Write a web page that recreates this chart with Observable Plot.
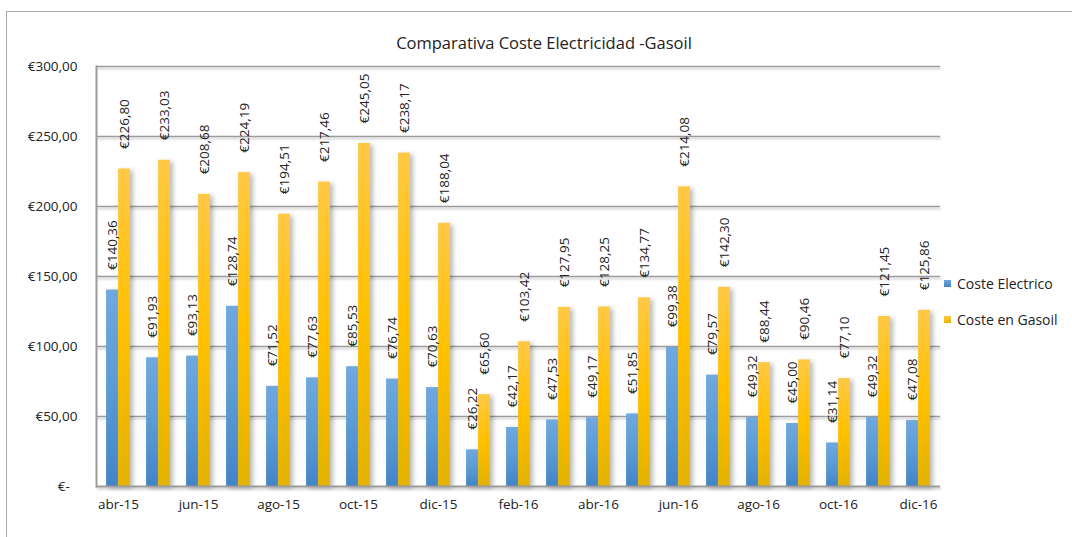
<!DOCTYPE html>
<html><head><meta charset="utf-8">
<script src="https://cdn.jsdelivr.net/npm/d3@7"></script>
<script src="https://cdn.jsdelivr.net/npm/@observablehq/plot@0.6"></script>
<style>
body{margin:0;background:#fff;overflow:hidden}
#wrap{position:relative;width:1072px;height:537px;overflow:hidden;font-family:"Open Sans",sans-serif;color:#222}
#frame{position:absolute;left:6px;top:11px;width:1100px;height:600px;border:1.5px solid #aaaaaa;box-sizing:border-box}
#title{position:absolute;left:0;width:1088px;top:31px;line-height:24px;text-align:center;font-size:16.5px}
#chart{position:absolute;left:0;top:0}
#legend{position:absolute;left:944px;top:273px;font-size:14px}
.item{display:flex;align-items:center;height:20px;margin-bottom:16px;white-space:nowrap}
.sw{width:7px;height:7px;margin-right:6px}
</style></head>
<body>
<div id="wrap">
  <div id="frame"></div>
  <div id="title">Comparativa Coste Electricidad -Gasoil</div>
  <div id="chart"></div>
  <div id="legend"></div>
</div>
<script>
const months = ["abr-15","may-15","jun-15","jul-15","ago-15","sep-15","oct-15","nov-15","dic-15","ene-16","feb-16","mar-16","abr-16","may-16","jun-16","jul-16","ago-16","sep-16","oct-16","nov-16","dic-16"];
const costeElectrico = [140.36,91.93,93.13,128.74,71.52,77.63,85.53,76.74,70.63,26.22,42.17,47.53,49.17,51.85,99.38,79.57,49.32,45.00,31.14,49.32,47.08];
const costeGasoil = [226.80,233.03,208.68,224.19,194.51,217.46,245.05,238.17,188.04,65.60,103.42,127.95,128.25,134.77,214.08,142.30,88.44,90.46,77.10,121.45,125.86];
const seriesNames = ["Coste Electrico","Coste en Gasoil"];
const yTicks = [0,50,100,150,200,250,300];
const xTickLabels = ["abr-15","jun-15","ago-15","oct-15","dic-15","feb-16","abr-16","jun-16","ago-16","oct-16","dic-16"];

const elec = months.map((m,i)=>({month:m, serie:seriesNames[0], value:costeElectrico[i]}));
const gas = months.map((m,i)=>({month:m, serie:seriesNames[1], value:costeGasoil[i]}));

const loc = d3.formatLocale({decimal:",", thousands:".", grouping:[3], currency:["€",""]});
const f2 = loc.format("$,.2f");
const fmtY = v => v === 0 ? "€-\u2007" : f2(v);

const W = 1072, H = 537;
const lab = {fontFamily:"Open Sans", fontSize:13.5, fill:"#222", rotate:-90, textAnchor:"start", dy:-20};

const chart = Plot.plot({
  width: W, height: H,
  marginLeft: 96, marginRight: 132, marginTop: 66, marginBottom: 51,
  style: {fontFamily:"Open Sans", fontSize:"13.5px", color:"#222", background:"transparent", overflow:"visible"},
  x: {domain: months, padding: 0, axis: null},
  y: {domain: [0,300], axis: null},
  marks: [
    Plot.gridY(yTicks.slice(1), {stroke:"#9c9c9c", strokeOpacity:1, strokeWidth:1.5}),
    Plot.barY(elec, {x:"month", y:"value", fill:"url(#gBlue)", insetLeft:8.1, insetRight:20.1}),
    Plot.barY(gas, {x:"month", y:"value", fill:"url(#gYellow)", insetLeft:20.1, insetRight:8.1}),
    Plot.ruleY([0], {stroke:"#9c9c9c", strokeWidth:2}),
    Plot.frame({anchor:"left", stroke:"#9c9c9c", strokeWidth:2}),
    Plot.axisY({ticks: yTicks, tickFormat: fmtY, tickSize: 0, tickPadding: 19, label: null, fontSize: 13.5}),
    Plot.axisX({ticks: xTickLabels, tickSize: 0, tickPadding: 13, label: null, fontSize: 13.5}),
    Plot.text(elec, {x:"month", y:"value", text: d => f2(d.value), dx:-6, ...lab}),
    Plot.text(gas, {x:"month", y:"value", text: d => f2(d.value), dx:6, ...lab})
  ]
});

const svg = d3.select(chart);
svg.insert("defs", ":first-child").html(`
  <linearGradient id="gBlue" x1="0" y1="0" x2="0" y2="1">
    <stop offset="0" stop-color="#70a8df"/>
    <stop offset="0.5" stop-color="#5b9bd5"/>
    <stop offset="1" stop-color="#4384c7"/>
  </linearGradient>
  <linearGradient id="gYellow" x1="0" y1="0" x2="0" y2="1">
    <stop offset="0" stop-color="#ffc844"/>
    <stop offset="0.5" stop-color="#ffc000"/>
    <stop offset="1" stop-color="#e2b200"/>
  </linearGradient>
  <filter id="shadow" filterUnits="userSpaceOnUse" x="0" y="0" width="${W}" height="${H}">
    <feDropShadow dx="3" dy="2" stdDeviation="2.5" flood-color="#000" flood-opacity="0.28"/>
  </filter>
  <filter id="shadowLine" filterUnits="userSpaceOnUse" x="0" y="0" width="${W}" height="${H}">
    <feDropShadow dx="1" dy="2" stdDeviation="1.2" flood-color="#000" flood-opacity="0.22"/>
  </filter>
`);
svg.selectAll("g[aria-label='bar']").attr("filter","url(#shadow)");
svg.selectAll("g[aria-label='y-grid'], g[aria-label='rule'], g[aria-label='frame']").attr("filter","url(#shadowLine)");
document.getElementById("chart").appendChild(chart);

const legend = d3.select("#legend");
const grads = ["linear-gradient(#70a8df,#4384c7)","linear-gradient(#ffc844,#e2b200)"];
seriesNames.forEach((s,i)=>{
  const it = legend.append("div").attr("class","item");
  it.append("div").attr("class","sw").style("background",grads[i]);
  it.append("span").text(s);
});
</script>
</body></html>
